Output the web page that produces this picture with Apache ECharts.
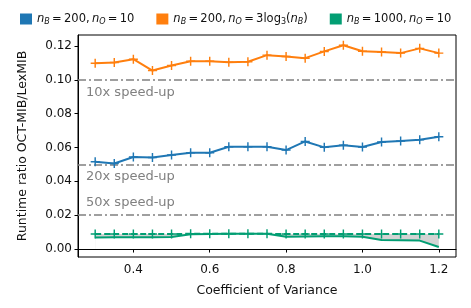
<!DOCTYPE html>
<html><head><meta charset="utf-8">
<script src="https://cdn.jsdelivr.net/npm/echarts@6/dist/echarts.min.js"></script>
<style>html,body{margin:0;padding:0;background:#fff}#c{width:471px;height:308px}</style>
</head><body><div id="c"></div>
<script>
const xValues = [0.30,0.35,0.40,0.45,0.50,0.55,0.60,0.65,0.70,0.75,0.80,0.85,0.90,0.95,1.00,1.05,1.10,1.15,1.20];
const blueVals = [0.0516,0.0506,0.0544,0.0541,0.0556,0.0569,0.0569,0.0605,0.0605,0.0605,0.0585,0.0636,0.0601,0.0613,0.0603,0.0633,0.0639,0.0646,0.0664];
const orangeVals = [0.1098,0.1102,0.1122,0.1055,0.1085,0.1110,0.1110,0.1104,0.1107,0.1146,0.1138,0.1128,0.1168,0.1204,0.1169,0.1164,0.1158,0.1186,0.1158];
const greenDashed = [0.0089,0.0089,0.0089,0.0089,0.0089,0.0090,0.0090,0.0090,0.0090,0.0090,0.0089,0.0089,0.0089,0.0089,0.0089,0.0089,0.0089,0.0089,0.0089];
const greenSolid = [0.0068,0.0069,0.0070,0.0070,0.0071,0.0087,0.0089,0.0090,0.0090,0.0090,0.0073,0.0074,0.0075,0.0075,0.0073,0.0053,0.0052,0.0050,0.0012];
const speedLines = [{v:0.10,t:'10x speed-up',pos:'insideStartBottom'},{v:0.05,t:'20x speed-up',pos:'insideStartBottom'},{v:0.02,t:'50x speed-up',pos:'insideStartTop'}];
const xTicks = [0.4,0.6,0.8,1.0,1.2];
const yTicks = [0.00,0.02,0.04,0.06,0.08,0.10,0.12];
const names = ['a','b','c'];
const legendText = {
  a: '{i|n}{s|B}{t|\u2009=\u2009200,\u2009}{i|n}{s|O}{t|\u2009=\u200910}',
  b: '{i|n}{s|B}{t|\u2009=\u2009200,\u2009}{i|n}{s|O}{t|\u2009=\u20093log}{n|3}{t|(}{i|n}{s|B}{t|)}',
  c: '{i|n}{s|B}{t|\u2009=\u20091000,\u2009}{i|n}{s|O}{t|\u2009=\u200910}'
};
const C = {a:'#1f77b4', b:'#ff7f0e', c:'#029e73'};
const plus = 'path://M4.2,0H5.8V10H4.2ZM0,4.2H10V5.8H0Z';
const pair = arr => arr.map((v,i)=>[xValues[i], v]);
const font = 'DejaVu Sans';
const chart = echarts.init(document.getElementById('c'), null, {renderer:'canvas'});
chart.setOption({
  animation:false,
  textStyle:{fontFamily:font},
  legend:{
    left:15, top:8, itemWidth:12, itemHeight:11, itemGap:22, width:460,
    icon:'rect', data:names,
    formatter: n => legendText[n],
    textStyle:{
      fontFamily:font, fontSize:11.5, color:'#111',
      rich:{
        i:{fontStyle:'italic', fontSize:11.5, fontFamily:font},
        s:{fontStyle:'italic', fontSize:8, fontFamily:font, padding:[5,0,0,0]},
        n:{fontSize:8, fontFamily:font, padding:[5,0,0,0]},
        t:{fontSize:11.5, fontFamily:font}
      }
    }
  },
  grid:{left:78, right:15, top:35, bottom:51, show:true, borderColor:'#000', borderWidth:1},
  xAxis:{
    type:'value', min:0.255, max:1.245,
    name:'Coefficient of Variance', nameLocation:'middle', nameGap:27,
    nameTextStyle:{fontSize:12.5, color:'#111', fontFamily:font},
    axisLine:{show:true, lineStyle:{color:'#000'}},
    axisTick:{show:true, customValues:xTicks, length:3.5, lineStyle:{color:'#000'}},
    axisLabel:{customValues:xTicks, formatter:v=>v.toFixed(1), fontSize:12, color:'#111', margin:7},
    splitLine:{show:false}
  },
  yAxis:{
    type:'value', min:-0.0047, max:0.1265,
    name:'Runtime ratio OCT-MIB/LexMIB', nameLocation:'middle', nameGap:49,
    nameTextStyle:{fontSize:12.5, color:'#111', fontFamily:font},
    axisLine:{show:true, lineStyle:{color:'#000'}},
    axisTick:{show:true, customValues:yTicks, length:3.5, lineStyle:{color:'#000'}},
    axisLabel:{customValues:yTicks, formatter:v=>v.toFixed(2), fontSize:12, color:'#111', margin:6},
    splitLine:{show:false}
  },
  series:[
    {name:'gapTop', type:'line', data:pair(greenDashed), symbol:'none', lineStyle:{opacity:0}, areaStyle:{color:'#d3d3d3', opacity:1}, silent:true, z:1},
    {name:'gapBottom', type:'line', data:pair(greenSolid), symbol:'none', lineStyle:{opacity:0}, areaStyle:{color:'#ffffff', opacity:1}, silent:true, z:2},
    {name:'a', type:'line', data:pair(blueVals), color:C.a, symbol:plus, symbolSize:9, showAllSymbol:true,
      lineStyle:{width:2}, itemStyle:{color:C.a}, z:5,
      markLine:{silent:true, symbol:'none', animation:false,
        lineStyle:{color:'#808080', width:1.6, type:[8,3,2,3]},
        data: speedLines.map(s=>({yAxis:s.v, name:s.t,
          label:{position:s.pos, formatter:p=>p.name, color:'#808080', fontSize:13, fontFamily:font, distance:[8,6]}}))
      }},
    {name:'b', type:'line', data:pair(orangeVals), color:C.b, symbol:plus, symbolSize:9, showAllSymbol:true,
      lineStyle:{width:2}, itemStyle:{color:C.b}, z:5},
    {name:'c', type:'line', data:pair(greenDashed), color:C.c, symbol:plus, symbolSize:9, showAllSymbol:true,
      lineStyle:{width:2, type:[6,3]}, itemStyle:{color:C.c}, z:5},
    {name:'cs', type:'line', data:pair(greenSolid), color:C.c, symbol:'none', lineStyle:{width:2}, z:4}
  ]
});
</script></body></html>
